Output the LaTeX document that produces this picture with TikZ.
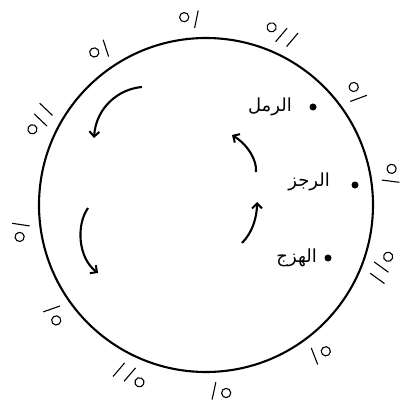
\documentclass[tikz,border=0pt]{standalone}
\usepackage{fontspec}
\newfontfamily\arabicfont[Script=Arabic]{DejaVu Sans}
\TeXXeTstate=1
\usetikzlibrary{arrows.meta,calc}
\begin{document}
\begin{tikzpicture}[x=1pt,y=1pt,
  markline/.style={line width=1.1pt},
  ring/.style={line width=2.1pt},
  flow/.style={line width=2.1pt,-{Straight Barb[length=5pt,width=10pt,line width=2pt]}},
  dotmark/.style={circle,fill=black,inner sep=0pt,minimum size=7pt},
  lbl/.style={anchor=east,inner sep=0pt,font=\arabicfont\fontsize{18}{20}\selectfont},
  sabab/.pic={\draw[markline] (-6,3) circle (4.6);
              \draw[markline] (3.5,-8.5) -- (8.5,8.5);},
  watad/.pic={\draw[markline] (-12,3) circle (4.6);
              \draw[markline] (-2.5,-8.5) -- (2.5,8.5);
              \draw[markline] (9.5,-8.5) -- (14.5,8.5);}
]
\useasboundingbox (0,0) rectangle (407,408);
\coordinate (c) at (206,203);
\draw[ring] (c) circle (167);
% prosodic marks, clockwise from the top
\foreach \a/\k in {94.8/sabab,66.1/watad,36.8/sabab,9.2/sabab,-19.5/watad,-52.5/sabab,
                   -85.7/sabab,-114.2/watad,-144.2/sabab,-172.1/sabab,152.8/watad,124.4/sabab}{
  \pic[rotate=\a-90] at ($(c)+(\a:186)$) {\k};
}
% dots and labels
\node[dotmark] (d1) at (313,301) {};
\node[dotmark] (d2) at (355,223) {};
\node[dotmark] (d3) at (328,150) {};
\node[lbl] (t1) at (292,301) {\beginR الرمل\endR};
\node[lbl] (t2) at (330,226) {\beginR الرجز\endR};
\node[lbl] (t3) at (317,150) {\beginR الهزج\endR};
% arrows
\coordinate (a1s) at (142,321); \coordinate (a1e) at (94,270);
\coordinate (a2s) at (88,200);  \coordinate (a2e) at (98,135);
\coordinate (a3s) at (256,236); \coordinate (a3e) at (232,273);
\coordinate (a4s) at (242,165); \coordinate (a4e) at (257,206);
\draw[flow] (a1s) .. controls (118,319) and (96,300) .. (a1e);
\draw[flow] (a2s) .. controls (76,183) and (78,150) .. (a2e);
\draw[flow] (a3s) .. controls (257,248) and (248,263) .. (a3e);
\draw[flow] (a4s) .. controls (252,175) and (257,190) .. (a4e);
\end{tikzpicture}
\end{document}
